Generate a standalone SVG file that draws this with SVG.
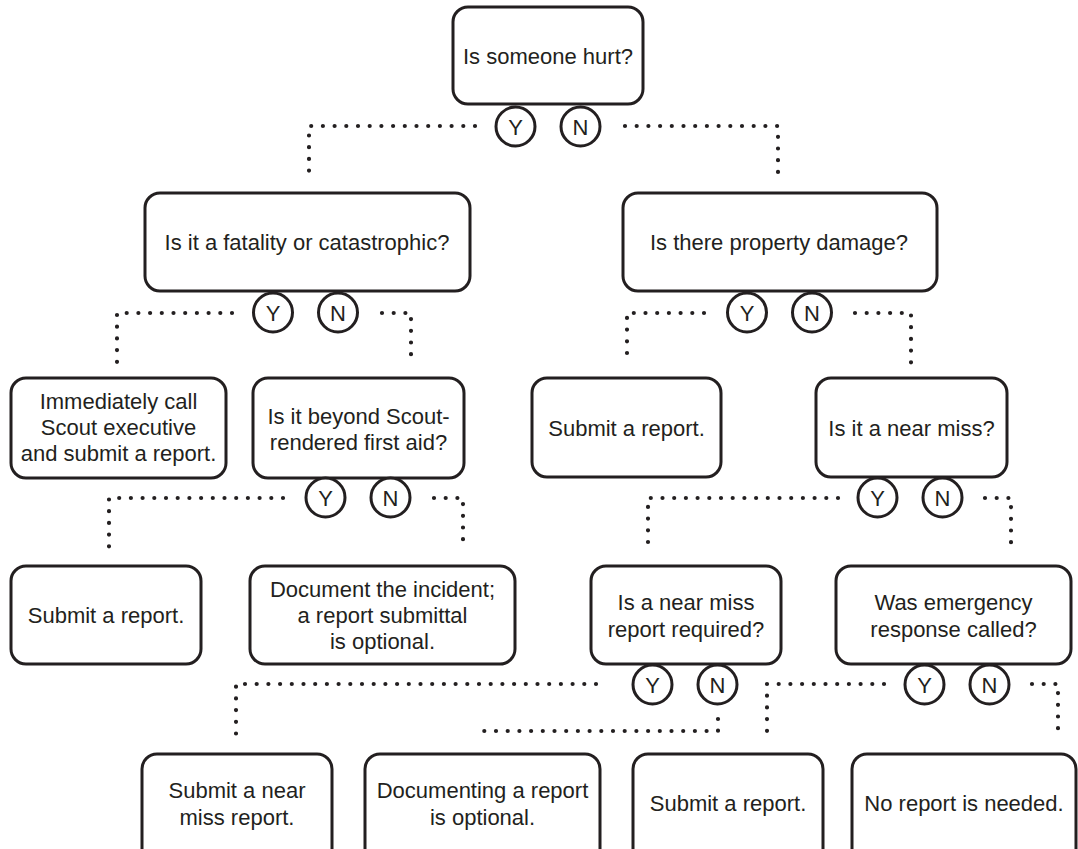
<svg xmlns="http://www.w3.org/2000/svg" width="1078" height="849" viewBox="0 0 1078 849">
<style>
.box{fill:#fff;stroke:#231f20;stroke-width:3}
.yn{fill:#fff;stroke:#231f20;stroke-width:3}
.t{font-family:"Liberation Sans",Arial,sans-serif;font-size:22px;fill:#231f20;text-anchor:middle}
.c{fill:none;stroke:#231f20;stroke-width:4.2;stroke-linecap:round;stroke-dasharray:0 11.7}
</style>
<rect width="1078" height="849" fill="#fff"/>
<g id="connectors">
<path class="c" d="M475,126 H309 V176"/>
<path class="c" d="M625,126 H778 V176"/>
<path class="c" d="M232,313 H117 V364"/>
<path class="c" d="M382,313 H411 V364"/>
<path class="c" d="M704,313 H627 V363"/>
<path class="c" d="M855,313 H911 V363"/>
<path class="c" d="M283,498 H109 V549"/>
<path class="c" d="M434,498 H463 V549"/>
<path class="c" d="M838,498 H648 V549"/>
<path class="c" d="M985,498 H1011 V549"/>
<path class="c" d="M596,684 H236 V735"/>
<path class="c" d="M718,719 V731 H482"/>
<path class="c" d="M884,684 H767 V735"/>
<path class="c" d="M1032,684 H1058 V735"/>
</g>
<g id="n1">
<rect class="box" x="453" y="7" width="190" height="97" rx="15"/>
<text class="t" x="548" y="64">Is someone hurt?</text>
<circle class="yn" cx="515.5" cy="126.5" r="19.5"/><text class="t" x="515.5" y="134.5">Y</text>
<circle class="yn" cx="580.5" cy="126.5" r="19.5"/><text class="t" x="580.5" y="134.5">N</text>
</g>
<g id="n2">
<rect class="box" x="145" y="193" width="325" height="98" rx="15"/>
<text class="t" x="307" y="250">Is it a fatality or catastrophic?</text>
<circle class="yn" cx="273" cy="312.5" r="19.5"/><text class="t" x="273" y="320.5">Y</text>
<circle class="yn" cx="338" cy="312.5" r="19.5"/><text class="t" x="338" y="320.5">N</text>
</g>
<g id="n3">
<rect class="box" x="623" y="193" width="314" height="98" rx="15"/>
<text class="t" x="779" y="250">Is there property damage?</text>
<circle class="yn" cx="747" cy="312.5" r="19.5"/><text class="t" x="747" y="320.5">Y</text>
<circle class="yn" cx="812" cy="312.5" r="19.5"/><text class="t" x="812" y="320.5">N</text>
</g>
<g id="n4">
<rect class="box" x="11" y="378" width="215" height="100" rx="15"/>
<text class="t" x="118.5" y="409">Immediately call</text>
<text class="t" x="118.5" y="435">Scout executive</text>
<text class="t" x="118.5" y="461">and submit a report.</text>
</g>
<g id="n5">
<rect class="box" x="253" y="378" width="211" height="100" rx="15"/>
<text class="t" x="358.5" y="424">Is it beyond Scout-</text>
<text class="t" x="358.5" y="450">rendered first aid?</text>
<circle class="yn" cx="325.5" cy="497.5" r="19.5"/><text class="t" x="325.5" y="505.5">Y</text>
<circle class="yn" cx="390.5" cy="497.5" r="19.5"/><text class="t" x="390.5" y="505.5">N</text>
</g>
<g id="n6">
<rect class="box" x="532" y="378" width="189" height="99" rx="15"/>
<text class="t" x="626.5" y="436">Submit a report.</text>
</g>
<g id="n7">
<rect class="box" x="816" y="378" width="191" height="99" rx="15"/>
<text class="t" x="911.5" y="436">Is it a near miss?</text>
<circle class="yn" cx="877.5" cy="497.5" r="19.5"/><text class="t" x="877.5" y="505.5">Y</text>
<circle class="yn" cx="942.5" cy="497.5" r="19.5"/><text class="t" x="942.5" y="505.5">N</text>
</g>
<g id="n8">
<rect class="box" x="11" y="566" width="190" height="98" rx="15"/>
<text class="t" x="106" y="623">Submit a report.</text>
</g>
<g id="n9">
<rect class="box" x="250" y="566" width="265" height="98" rx="15"/>
<text class="t" x="382.5" y="597">Document the incident;</text>
<text class="t" x="382.5" y="623">a report submittal</text>
<text class="t" x="382.5" y="649">is optional.</text>
</g>
<g id="n10">
<rect class="box" x="591" y="566" width="190" height="98" rx="15"/>
<text class="t" x="686" y="610">Is a near miss</text>
<text class="t" x="686" y="637">report required?</text>
<circle class="yn" cx="652.5" cy="684.5" r="19.5"/><text class="t" x="652.5" y="692.5">Y</text>
<circle class="yn" cx="717.5" cy="684.5" r="19.5"/><text class="t" x="717.5" y="692.5">N</text>
</g>
<g id="n11">
<rect class="box" x="836" y="566" width="235" height="98" rx="15"/>
<text class="t" x="953.5" y="610">Was emergency</text>
<text class="t" x="953.5" y="637">response called?</text>
<circle class="yn" cx="924.5" cy="684.5" r="19.5"/><text class="t" x="924.5" y="692.5">Y</text>
<circle class="yn" cx="989.5" cy="684.5" r="19.5"/><text class="t" x="989.5" y="692.5">N</text>
</g>
<g id="n12">
<rect class="box" x="142" y="754" width="190" height="110" rx="15"/>
<text class="t" x="237" y="798">Submit a near</text>
<text class="t" x="237" y="825">miss report.</text>
</g>
<g id="n13">
<rect class="box" x="365" y="754" width="235" height="110" rx="15"/>
<text class="t" x="482.5" y="798">Documenting a report</text>
<text class="t" x="482.5" y="825">is optional.</text>
</g>
<g id="n14">
<rect class="box" x="633" y="754" width="190" height="110" rx="15"/>
<text class="t" x="728" y="811">Submit a report.</text>
</g>
<g id="n15">
<rect class="box" x="852" y="754" width="224" height="110" rx="15"/>
<text class="t" x="964" y="811">No report is needed.</text>
</g>
</svg>
